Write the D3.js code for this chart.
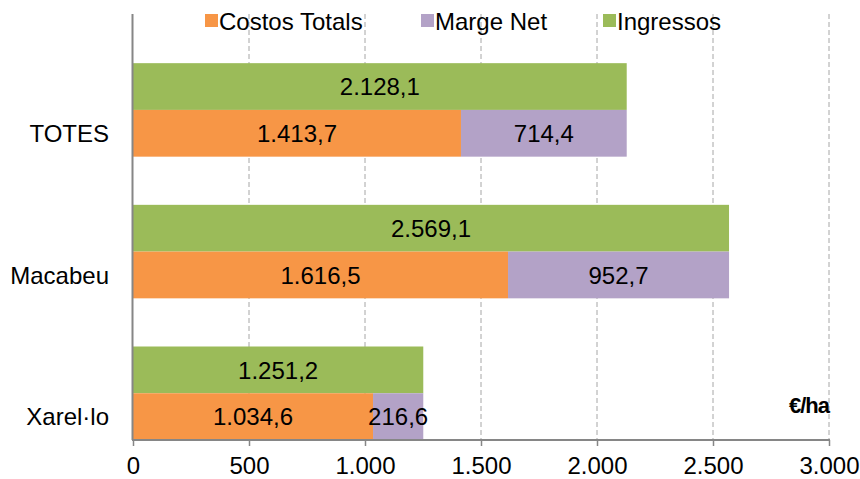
<!DOCTYPE html>
<html>
<head>
<meta charset="utf-8">
<script src="https://cdn.jsdelivr.net/npm/d3@7"></script>
<style>
  body { margin: 0; background: #fff; }
  svg text { font-family: "Liberation Sans", Arial, sans-serif; fill: #000; }
</style>
</head>
<body>
<div id="chart"></div>
<script>
// data (€/ha)
var categories = ["TOTES", "Macabeu", "Xarel·lo"];
var costosTotals = [1413.7, 1616.5, 1034.6];
var margeNet = [714.4, 952.7, 216.6];
var ingressos = [2128.1, 2569.1, 1251.2];
var xTicks = [0, 500, 1000, 1500, 2000, 2500, 3000];
var seriesNames = ["Costos Totals", "Marge Net", "Ingressos"];
var seriesColors = ["#f79646", "#b3a2c7", "#9bbb59"];

var width = 860, height = 479;
var plot = {left: 133, right: 829, top: 14, bottom: 440};
var legendX = [205, 421, 603];

var locale = d3.formatLocale({decimal: ",", thousands: ".", grouping: [3], currency: ["", "€"]});
var fmtTick = locale.format(",.0f"),
    fmtVal = locale.format(",.1f");

var svg = d3.select("#chart").append("svg")
    .attr("width", width)
    .attr("height", height);

var x = d3.scaleLinear()
    .domain([0, 3000])
    .range([plot.left, plot.right]);

var y = d3.scaleBand()
    .domain(categories)
    .range([plot.top + 1, plot.bottom]);

// two rows per category: ingressos on top, costs + margin below
var row = d3.scaleBand()
    .domain(["top", "bottom"])
    .range([y.bandwidth() * 0.34, y.bandwidth()]);

// dashed grid
svg.append("g")
  .selectAll("line")
    .data(xTicks.slice(1))
  .enter().append("line")
    .attr("x1", function(d) { return x(d); })
    .attr("x2", function(d) { return x(d); })
    .attr("y1", plot.top)
    .attr("y2", plot.bottom)
    .style("stroke", "#a6a6a6")
    .style("stroke-width", 1)
    .style("stroke-dasharray", "5,3");

var rows = categories.map(function(c, i) {
  return {cat: c, cost: costosTotals[i], marge: margeNet[i], ingr: ingressos[i]};
});

var g = svg.append("g")
  .selectAll("g")
    .data(rows)
  .enter().append("g")
    .attr("transform", function(d) { return "translate(0," + y(d.cat) + ")"; });

// ingressos
g.append("rect")
    .attr("x", x(0))
    .attr("y", row("top"))
    .attr("height", row.bandwidth())
    .attr("width", function(d) { return x(d.ingr) - x(0); })
    .style("fill", seriesColors[2]);

// costos totals
g.append("rect")
    .attr("x", x(0))
    .attr("y", row("bottom"))
    .attr("height", row.bandwidth())
    .attr("width", function(d) { return x(d.cost) - x(0); })
    .style("fill", seriesColors[0]);

// marge net, stacked on costs
g.append("rect")
    .attr("x", function(d) { return x(d.cost); })
    .attr("y", row("bottom"))
    .attr("height", row.bandwidth())
    .attr("width", function(d) { return x(d.cost + d.marge) - x(d.cost); })
    .style("fill", seriesColors[1]);

var fs = "24px";

g.append("text")
    .attr("x", function(d) { return x(d.ingr / 2); })
    .attr("y", row("top") + row.bandwidth() / 2)
    .attr("dy", "0.36em")
    .attr("text-anchor", "middle")
    .style("font-size", fs)
    .text(function(d) { return fmtVal(d.ingr); });

g.append("text")
    .attr("x", function(d) { return x(d.cost / 2); })
    .attr("y", row("bottom") + row.bandwidth() / 2)
    .attr("dy", "0.36em")
    .attr("text-anchor", "middle")
    .style("font-size", fs)
    .text(function(d) { return fmtVal(d.cost); });

g.append("text")
    .attr("x", function(d) { return x(d.cost + d.marge / 2); })
    .attr("y", row("bottom") + row.bandwidth() / 2)
    .attr("dy", "0.36em")
    .attr("text-anchor", "middle")
    .style("font-size", fs)
    .text(function(d) { return fmtVal(d.marge); });

// category labels
g.append("text")
    .attr("x", plot.left - 24)
    .attr("y", row("bottom") + row.bandwidth() / 2)
    .attr("dy", "0.36em")
    .attr("text-anchor", "end")
    .style("font-size", fs)
    .text(function(d) { return d.cat; });

// x axis
var xAxis = d3.axisBottom(x)
    .tickValues(xTicks)
    .tickSize(6)
    .tickPadding(11)
    .tickFormat(fmtTick);

var ax = svg.append("g")
    .attr("transform", "translate(0," + plot.bottom + ")")
    .call(xAxis);
ax.select(".domain").remove();
ax.selectAll(".tick line").style("stroke", "#868686").style("stroke-width", 1.5);
ax.selectAll(".tick text").style("font-size", fs).style("font-family", "Liberation Sans, Arial, sans-serif");

svg.append("line")
    .attr("x1", x(0) - 1).attr("x2", x(3000) + 1)
    .attr("y1", plot.bottom).attr("y2", plot.bottom)
    .style("stroke", "#868686").style("stroke-width", 2);

svg.append("line")
    .attr("x1", x(0) - 0.5).attr("x2", x(0) - 0.5)
    .attr("y1", plot.top).attr("y2", plot.bottom)
    .style("stroke", "#868686").style("stroke-width", 2);

// unit label
svg.append("text")
    .attr("x", plot.right)
    .attr("y", 413)
    .attr("text-anchor", "end")
    .style("font-size", "22px")
    .style("font-weight", "bold")
    .style("letter-spacing", "-1px")
    .text("€/ha");

// legend
var legend = svg.append("g");
seriesNames.forEach(function(name, i) {
  legend.append("rect")
      .attr("x", legendX[i])
      .attr("y", 14)
      .attr("width", 13)
      .attr("height", 13)
      .style("fill", seriesColors[i]);
  legend.append("text")
      .attr("x", legendX[i] + 14)
      .attr("y", 21)
      .attr("dy", "0.36em")
      .style("font-size", fs)
      .text(name);
});
</script>
</body>
</html>
